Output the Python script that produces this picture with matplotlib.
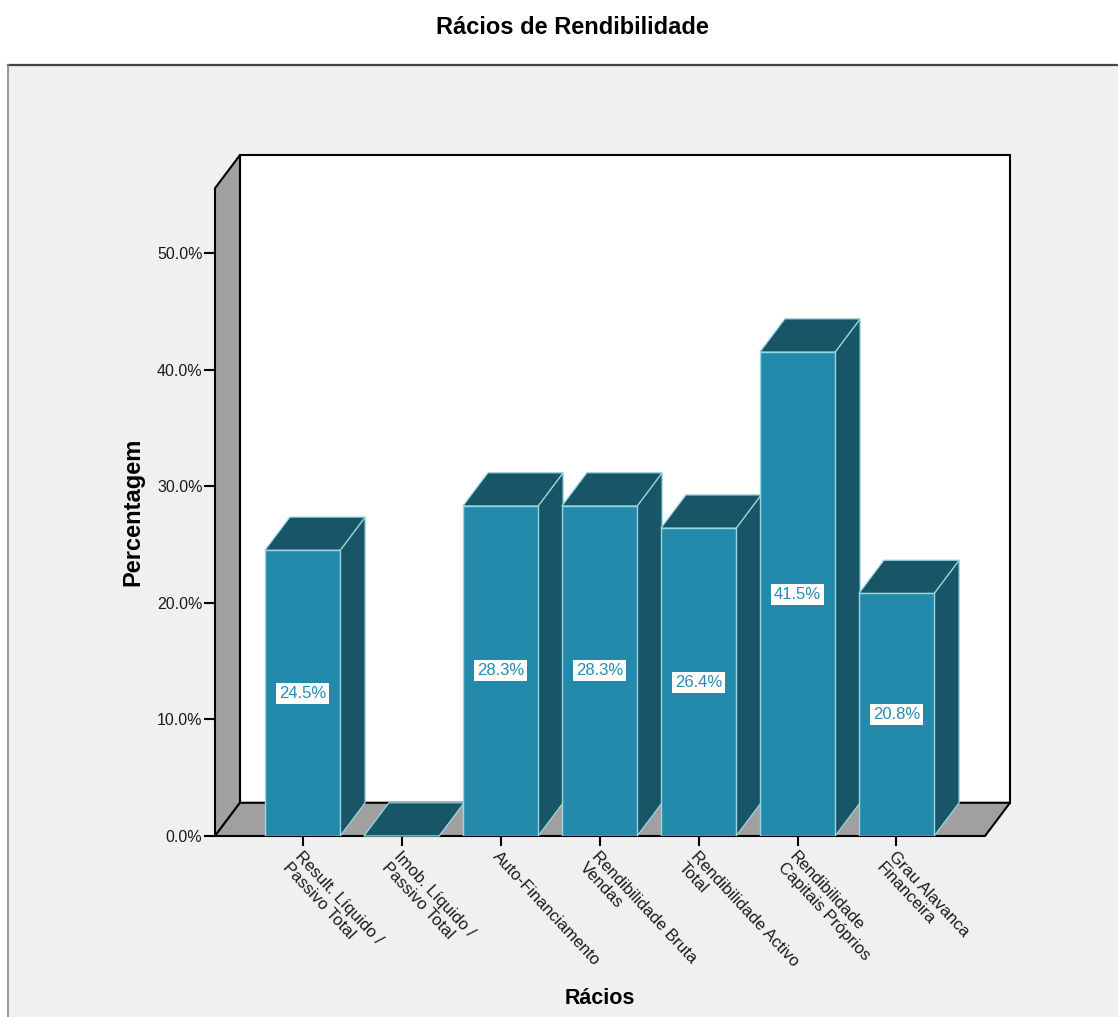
import matplotlib
matplotlib.use("Agg")
import matplotlib.pyplot as plt
from matplotlib.patches import Polygon, Rectangle
from matplotlib.lines import Line2D

plt.rcParams['font.family'] = ['Liberation Sans', 'DejaVu Sans']

# ---- data ----
categories = ["Result. Líquido /\nPassivo Total",
              "Imob. Líquido /\nPassivo Total",
              "Auto-Financiamento",
              "Rendibilidade Bruta\nVendas",
              "Rendibilidade Activo\nTotal",
              "Rendibilidade\nCapitais Próprios",
              "Grau Alavanca\nFinanceira"]
values = [24.5, 0.0, 28.3, 28.3, 26.4, 41.5, 20.8]
yticks = [0, 10, 20, 30, 40, 50]
ytick_labels = ["0.0%", "10.0%", "20.0%", "30.0%", "40.0%", "50.0%"]
title = "Rácios de Rendibilidade"
xlabel = "Rácios"
ylabel = "Percentagem"

# ---- style ----
W, H = 1118, 1017
front_c = '#248aab'
dark_c = '#175567'
edge_c = '#9ad6e2'
wall_c = '#a0a0a0'
panel_c = '#f0f0f0'
label_c = '#2a8ab0'

fig = plt.figure(figsize=(W / 100, H / 100), dpi=100)
fig.patch.set_facecolor('white')

# outer panel
fig.patches.append(Rectangle((8 / W, 0), 1, (H - 65) / H, transform=fig.transFigure,
                             facecolor=panel_c, edgecolor='none', zorder=-10))
fig.lines.append(Line2D([8 / W, 1], [(H - 65) / H] * 2, transform=fig.transFigure,
                        color='#444444', lw=1.6, zorder=-5))
fig.lines.append(Line2D([8 / W] * 2, [0, (H - 65) / H], transform=fig.transFigure,
                        color='#888888', lw=1.2, zorder=-5))

# axes placement (pixel box of the 3D frame)
px_l, px_r, px_b, px_t = 215, 1010, 836, 155
ax = fig.add_axes([px_l / W, (H - px_b) / H, (px_r - px_l) / W, (px_b - px_t) / H])
ax.set_zorder(1)
ax.set_facecolor('none')
for s in ax.spines.values():
    s.set_visible(False)

x0, x1 = -0.884, 6.894       # front floor extent
ddx, ddy = 0.2525, 2.85      # depth offset
ytop = 58.4
ax.set_xlim(x0, x1 + ddx)
ax.set_ylim(0, ytop)
yf = ytop - ddy

# walls and floor
ax.add_patch(Polygon([(x0 + ddx, ddy), (x1 + ddx, ddy), (x1 + ddx, ytop), (x0 + ddx, ytop)],
                     closed=True, fc='white', ec='black', lw=1.5, zorder=1, clip_on=False))
ax.add_patch(Polygon([(x0, 0), (x0, yf), (x0 + ddx, ytop), (x0 + ddx, ddy)],
                     closed=True, fc=wall_c, ec='black', lw=1.5, zorder=1, clip_on=False))
ax.add_patch(Polygon([(x0, 0), (x1, 0), (x1 + ddx, ddy), (x0 + ddx, ddy)],
                     closed=True, fc=wall_c, ec='black', lw=1.5, zorder=1, clip_on=False))

# bars
bw = 0.76
xs = list(range(len(values)))
for i, v in zip(xs, values):
    l, r = i - bw / 2, i + bw / 2
    ax.add_patch(Polygon([(r, 0), (r + ddx, ddy), (r + ddx, v + ddy), (r, v)],
                         closed=True, fc=dark_c, ec=edge_c, lw=0.9, zorder=2, clip_on=False))
    ax.add_patch(Polygon([(l, v), (r, v), (r + ddx, v + ddy), (l + ddx, v + ddy)],
                         closed=True, fc=dark_c, ec=edge_c, lw=0.9, zorder=2, clip_on=False))
ax.bar(xs, values, width=bw, color=front_c, edgecolor=edge_c, linewidth=1.0, zorder=3)

# data labels
for i, v in zip(xs, values):
    if v > 0:
        ax.text(i, v / 2, f"{v:.1f}%", ha='center', va='center', color=label_c,
                fontsize=12, zorder=4,
                bbox=dict(boxstyle='square,pad=0.18', fc='white', ec='none'))

# ticks
ax.set_yticks(yticks)
ax.set_yticklabels(ytick_labels, fontsize=11.5, color='#1a1a1a')
ax.tick_params(axis='y', direction='out', length=8, width=1.5, pad=1)
ax.set_xticks(xs)
ax.set_xticklabels(categories, rotation=-47, ha='left', va='top',
                   rotation_mode='anchor', fontsize=12, color='#1a1a1a', linespacing=1.1)
ax.tick_params(axis='x', direction='out', length=7, width=1.5, pad=2)

# titles
fig.text(572 / W, 1 - 27 / H, title, ha='center', va='center', fontsize=17, fontweight='bold')
fig.text(133 / W, 1 - 512 / H, ylabel, ha='center', va='center', rotation=90,
         fontsize=17, fontweight='bold')
fig.text(600 / W, 1 - 998 / H, xlabel, ha='center', va='center', fontsize=15.5, fontweight='bold')

fig.savefig('out.png', dpi=100)
